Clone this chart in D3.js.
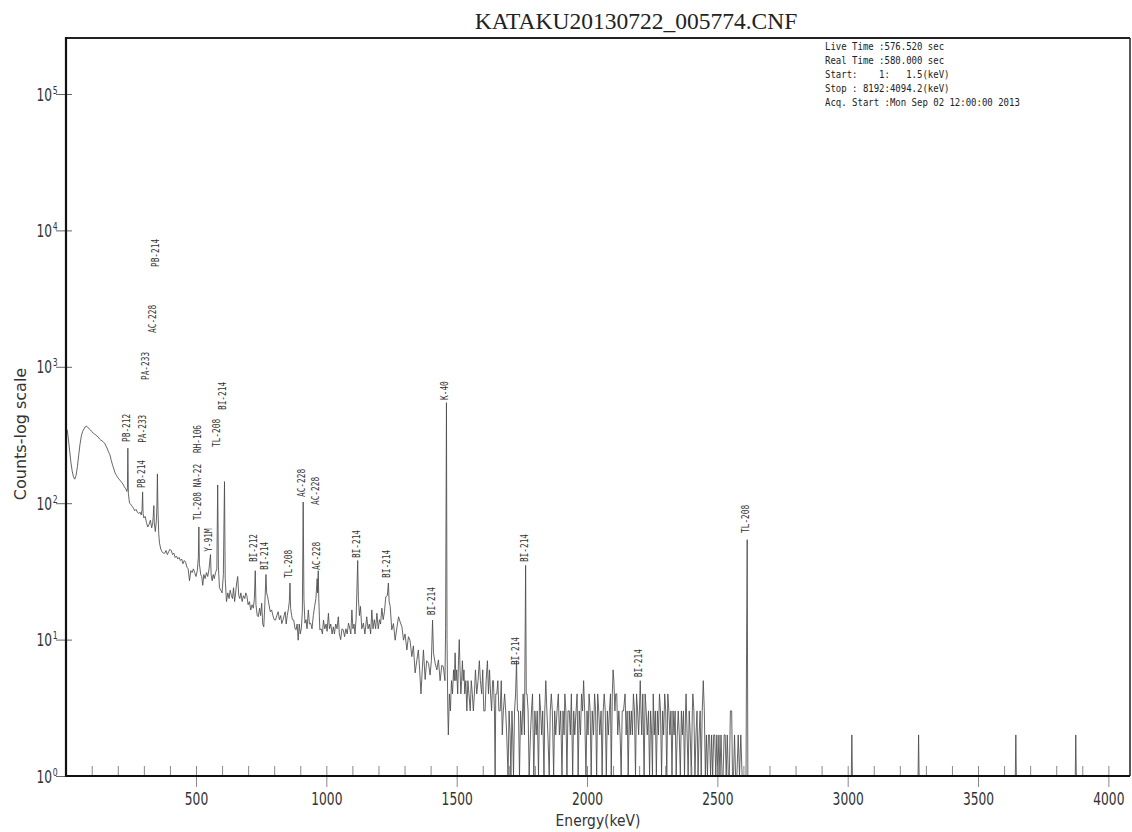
<!DOCTYPE html>
<html>
<head>
<meta charset="utf-8">
<script src="https://cdn.jsdelivr.net/npm/d3@7"></script>
<style>
  html, body { margin: 0; padding: 0; background: #fff; }
  svg { display: block; }
</style>
</head>
<body>
<svg id="chart" width="1132" height="832"></svg>
<script>
// ---- Spectrum file header ----
const titleText = "KATAKU20130722_005774.CNF";
const infoLines = [
  "Live Time :576.520 sec",
  "Real Time :580.000 sec",
  "Start:    1:   1.5(keV)",
  "Stop : 8192:4094.2(keV)",
  "Acq. Start :Mon Sep 02 12:00:00 2013"
];

// ---- Axis ticks ----
const xMajorTicks = [500, 1000, 1500, 2000, 2500, 3000, 3500, 4000];
const xMinorTicks = [100, 200, 300, 400, 600, 700, 800, 900, 1100, 1200, 1300, 1400,
  1600, 1700, 1800, 1900, 2100, 2200, 2300, 2400, 2600, 2700, 2800, 2900,
  3100, 3200, 3300, 3400, 3600, 3700, 3800, 3900];
const yTicks = [1, 10, 100, 1000, 10000, 100000];
const yExponents = ["0", "1", "2", "3", "4", "5"];

// ---- Spectrum: [energy keV, counts] ----
// low-energy continuum with the natural-series peaks (up to K-40)
const spectrumLow = [
  [1.5, 40], [3, 340], [6, 345], [10, 300], [15, 245], [20, 200], [25, 172], [30, 156], [35, 150],
  [40, 160], [45, 185], [50, 225], [55, 270], [60, 310], [65, 335], [70, 350], [75, 362], [80, 368],
  [85, 358], [90, 352], [95, 345], [100, 335], [105, 328], [110, 322], [115, 318], [120, 310],
  [125, 305], [130, 296], [135, 290], [140, 286], [145, 280], [150, 275], [155, 262], [160, 250],
  [165, 236], [170, 226], [175, 206], [180, 190], [185, 178], [190, 166], [195, 160], [200, 154],
  [205, 150], [210, 146], [215, 142], [220, 138], [225, 132], [230, 128], [235, 122],
  [237, 130], [238.6, 253], [240.5, 118],
  [245, 100], [250, 98], [255, 95], [260, 92], [265, 88], [270, 90], [275, 86], [280, 84], [285, 86], [290, 82],
  [293, 90], [295.2, 121], [297, 84],
  [300, 78], [305, 80], [310, 72], [315, 67], [320, 70], [325, 75], [330, 66], [334, 72],
  [336, 80], [338.3, 96], [340, 72], [344, 62], [348, 75],
  [350, 95], [351.9, 164], [354, 90], [357, 60],
  [360, 51], [365, 46], [370, 44], [375, 43], [380, 43], [385, 45], [390, 42], [395, 44], [400, 46],
  [405, 45], [410, 42], [415, 43], [420, 40], [425, 41], [430, 39], [435, 40], [440, 38], [445, 39],
  [450, 36], [455, 38], [460, 37], [465, 34], [470, 33], [475, 27], [480, 32], [485, 31], [490, 33],
  [495, 31], [500, 29], [505, 32],
  [509, 40], [511, 67], [513, 36],
  [518, 30], [522, 29], [526, 25], [530, 30], [535, 28], [540, 31], [545, 29], [550, 33],
  [555.6, 42], [558, 30], [562, 27], [566, 30], [570, 28], [575, 31], [580, 33],
  [583.2, 136], [586, 34], [590, 24], [595, 23], [600, 22], [605, 30],
  [609.3, 144], [612, 28], [617, 19], [622, 22], [627, 20], [631, 23], [636, 21], [640, 20], [644, 24],
  [648, 19], [652, 22], [656, 26], [660, 29], [664, 21], [668, 20], [672, 22], [677, 19], [682, 21],
  [687, 20], [691, 22], [695, 21], [700, 18], [705, 19], [710, 16.5], [715, 18], [720, 17], [724, 20],
  [727.3, 32], [730, 18], [735, 15], [739, 14.7], [744, 17], [748, 15], [752, 18.5], [756, 13],
  [760, 12.4], [764, 18],
  [768.4, 30], [771, 22], [775, 20.6], [780, 18], [785, 16], [790, 16.5], [795, 15], [800, 14],
  [805, 13.9], [810, 15], [815, 16], [820, 14], [825, 15], [829, 13.1], [834, 14], [838, 15],
  [842, 16], [846, 13], [850, 15], [855, 17],
  [858, 19], [860.6, 26], [863, 17], [867, 15], [870, 14], [875, 13.9], [880, 12], [884, 11.8],
  [888, 13], [892, 9.9], [896, 13], [900, 11], [904, 12], [908, 16],
  [911.2, 102], [914, 20], [918, 13.2], [922, 14], [926, 12], [931, 16.5], [935, 13], [940, 13.2],
  [945, 12], [950, 15], [955, 17.5], [960, 20],
  [964.8, 28], [966.5, 22], [969, 32], [971, 20], [975, 11.8], [980, 12], [985, 11], [989, 13.9],
  [994, 12], [999, 13], [1003, 11.5], [1008, 15.6], [1012, 12], [1017, 13], [1022, 11], [1027, 12.4],
  [1031, 11], [1036, 13], [1041, 12], [1046, 14.7], [1050, 11], [1055, 10], [1060, 12], [1065, 11.8],
  [1070, 10.5], [1075, 12], [1080, 11], [1085, 13.2], [1090, 12], [1094, 11], [1098, 16.5],
  [1102, 12], [1106, 13], [1110, 11], [1114, 14], [1117, 22],
  [1120.3, 38], [1123, 20], [1127, 15], [1131, 17.5], [1136, 12], [1142, 13.2], [1148, 11],
  [1155, 14.7], [1160, 12], [1165, 13], [1170, 11], [1174.5, 16.5], [1179, 12], [1184, 14],
  [1189, 12], [1194, 15.6], [1199, 12], [1204, 14], [1208, 13], [1213, 17], [1218, 14], [1223, 16],
  [1228, 20.6], [1234, 21],
  [1238.1, 26], [1241, 19], [1245, 17.5], [1251, 11.8], [1257.5, 13.1], [1264, 9.9], [1270, 12],
  [1277, 14.7], [1283, 13.5], [1290, 12.4], [1296, 9.9], [1302, 11], [1309, 8.4], [1315, 10.5],
  [1321, 9.9], [1328, 7.5], [1334, 9], [1340.6, 5.7], [1347, 7], [1353, 8.4], [1358, 6], [1363, 4],
  [1368, 6], [1372.5, 8.4], [1379, 5.1], [1385, 7], [1392, 6.7], [1398, 5.5], [1403, 7],
  [1407.5, 13.9], [1411, 8], [1417.5, 6.7], [1424, 6], [1430, 7.1], [1436.5, 5], [1443, 6.5],
  [1449, 6.3], [1455, 5],
  [1457.5, 12], [1460.8, 546], [1463, 10]
];

// sparse region between K-40 and the 2614 keV line (integer counts)
const spectrumMid = [
  [1466, 3], [1468, 2], [1472, 4], [1476, 3], [1480, 5], [1484, 4], [1488, 6], [1491, 5], [1494, 8],
  [1497, 5], [1500, 6], [1504, 4], [1507, 7], [1510, 10], [1513, 6], [1516, 4], [1519, 5], [1522, 7],
  [1525, 5], [1528, 6], [1531, 4], [1535, 5], [1539, 3], [1543, 5], [1547, 4], [1552, 3], [1556, 5],
  [1560, 4], [1564, 3], [1568, 4], [1572, 6], [1577, 4], [1582, 5], [1587, 7], [1591, 5], [1596, 4],
  [1600, 6], [1604, 3], [1609, 3], [1613, 5], [1618, 7], [1622, 4], [1626, 6], [1630, 4], [1634, 3],
  [1638, 5], [1641, 5], [1645, 3], [1647.5, 1], [1650, 4], [1654, 4], [1658, 5], [1662, 3],
  [1667, 3], [1671, 5], [1675, 2], [1679, 3], [1684, 4], [1688, 3], [1692, 2], [1697, 1], [1701, 3],
  [1705, 2], [1708, 1], [1712, 3], [1715, 2], [1718, 1], [1722, 3], [1726, 4],
  [1729.6, 7], [1733, 3], [1737, 3], [1741, 1], [1745, 3], [1750, 2], [1755, 4], [1760, 2],
  [1764.5, 35], [1767, 4], [1770, 4], [1774, 3], [1778, 1], [1783, 2], [1787, 3], [1791, 4],
  [1796, 1], [1800, 3], [1805, 2], [1809, 3], [1814, 1], [1818, 4], [1822, 3], [1826, 2], [1830, 3],
  [1835, 1], [1838, 3], [1842, 5], [1846, 3], [1850, 2], [1855, 1], [1859, 3], [1863, 4], [1867, 3],
  [1872, 1], [1876, 3], [1880, 2], [1885, 3], [1890, 4], [1894, 2], [1899, 3], [1904, 1], [1908, 3],
  [1912, 2], [1915, 4], [1919, 3], [1923, 1], [1927, 3], [1932, 3], [1936, 2], [1940, 4], [1945, 1],
  [1949, 3], [1953, 2], [1958, 3], [1962, 4], [1966, 1], [1970, 3], [1975, 2], [1979, 4], [1983, 3],
  [1987, 5], [1991, 3], [1996, 1], [2000, 3], [2004, 2], [2008, 4], [2012, 3], [2016, 1], [2020, 3],
  [2025, 2], [2029, 4], [2033, 3], [2037, 1], [2041, 4], [2045, 3], [2049, 2], [2054, 3], [2058, 1],
  [2062, 3], [2066, 4], [2070, 3], [2074, 1], [2078, 3], [2082, 2], [2086, 3], [2090, 4], [2093, 1],
  [2097, 4], [2100, 6], [2103, 5], [2107, 3], [2110, 4], [2114, 4], [2118, 2], [2122, 3], [2127, 2],
  [2131, 1], [2135, 3], [2140, 3], [2146, 4], [2150, 2], [2154, 3], [2158, 1], [2162, 3], [2166, 2],
  [2170, 3], [2174, 2], [2178, 4], [2182, 3], [2186, 1], [2190, 4], [2194, 3], [2198, 2],
  [2201, 3], [2204.2, 5], [2207, 3], [2210, 2], [2214, 4], [2219, 1], [2223, 4], [2227, 3],
  [2231, 2], [2236, 3], [2240, 1], [2244, 3], [2248, 2], [2251, 1], [2254, 4], [2258, 2], [2262, 3],
  [2266, 1], [2270, 3], [2274, 2], [2278, 4], [2282, 3], [2286, 1], [2290, 3], [2294, 2], [2298, 4],
  [2302, 3], [2306, 1], [2310, 4], [2314, 3], [2318, 2], [2322, 3], [2326, 1], [2330, 3], [2334, 2],
  [2338, 3], [2342, 1], [2346, 2], [2350, 3], [2354, 2], [2358, 1], [2362, 3], [2366, 2], [2370, 3],
  [2374, 1], [2378, 3], [2380, 4], [2384, 2], [2388, 1], [2392, 3], [2396, 2], [2400, 1], [2404, 3],
  [2406, 4], [2410, 3], [2414, 1], [2418, 2], [2422, 3], [2426, 1], [2430, 2], [2434, 3], [2438, 1],
  [2442, 3], [2446, 5], [2450, 3], [2454, 1], [2458, 2], [2462, 1], [2466, 2], [2470, 2], [2474, 1],
  [2478, 2], [2482, 1], [2486, 2], [2490, 2], [2494, 1], [2498, 2], [2502, 1], [2506, 2], [2510, 1],
  [2514, 2], [2518, 1], [2522, 1], [2526, 2], [2530, 2], [2534, 1], [2538, 2], [2542, 1], [2546, 1],
  [2550, 3], [2555, 3], [2558, 1], [2562, 1], [2566, 2], [2570, 1], [2575, 1], [2580, 2], [2585, 1],
  [2590, 2], [2595, 1], [2600, 1], [2605, 1], [2610, 1],
  [2612, 8], [2614.5, 54], [2617, 1]
];

// high-energy tail: empty channels with a few single events
const spectrumHigh = [
  [2620, 1], [3014, 1], [3016, 2], [3018, 1], [3270, 1], [3272, 2], [3274, 1],
  [3643, 1], [3645, 2], [3647, 1], [3873, 1], [3875, 2], [3877, 1], [4083, 1]
];

// ---- Nuclide identifications: [name, peak energy keV, label base (counts)] ----
const peakLabels = [
  ["PB-212", 238.6, 281],
  ["PB-214", 295.2, 129],
  ["PA-233", 300.1, 277],
  ["PA-233", 311.9, 800],
  ["AC-228", 338.3, 1770],
  ["PB-214", 351.9, 5390],
  ["TL-208", 510.8, 75],
  ["NA-22", 511.0, 131],
  ["RH-106", 511.9, 233],
  ["Y-91M", 555.6, 44],
  ["TL-208", 583.2, 258],
  ["BI-214", 609.3, 482],
  ["BI-212", 727.3, 37],
  ["BI-214", 768.4, 32.4],
  ["TL-208", 860.6, 28.3],
  ["AC-228", 911.2, 111],
  ["AC-228", 964.8, 97],
  ["AC-228", 969.0, 32.4],
  ["BI-214", 1120.3, 39.6],
  ["BI-214", 1238.1, 28.3],
  ["BI-214", 1408.0, 15.1],
  ["K-40", 1460.8, 571],
  ["BI-214", 1729.6, 6.5],
  ["BI-214", 1764.5, 37],
  ["BI-214", 2204.2, 5.3],
  ["TL-208", 2614.5, 60.5]
];

// ---- Layout ----
const plot = { left: 66, right: 1130, top: 38, bottom: 776 };
const svg = d3.select("#chart");

const x = d3.scaleLinear().domain([1.3, 4083]).range([plot.left, plot.right]);
const y = d3.scaleLog().domain([1, Math.pow(10, 5.4106)]).range([plot.bottom, plot.top]);

const axisFont = "'DejaVu Sans', sans-serif";
const monoFont = "'DejaVu Sans Mono', monospace";

// title
svg.append("text")
  .attr("x", 636).attr("y", 29)
  .attr("text-anchor", "middle")
  .attr("font-family", "'Liberation Serif', 'Times New Roman', serif")
  .attr("font-size", 23.5)
  .attr("fill", "#222")
  .text(titleText);

// spectrum trace
const spectrum = d3.sort(spectrumLow.concat(spectrumMid, spectrumHigh), d => d[0]);
svg.append("clipPath").attr("id", "plotClip")
  .append("rect")
  .attr("x", plot.left).attr("y", plot.top)
  .attr("width", plot.right - plot.left).attr("height", plot.bottom - plot.top);

const line = d3.line()
  .x(d => x(d[0]))
  .y(d => y(Math.max(1, d[1])));

svg.append("path")
  .datum(spectrum)
  .attr("clip-path", "url(#plotClip)")
  .attr("fill", "none")
  .attr("stroke", "#4a4a4a")
  .attr("stroke-width", 0.85)
  .attr("d", line);

// x axis: minor ticks (inside), major ticks crossing the axis
const xAxisG = svg.append("g").attr("transform", `translate(0,${plot.bottom})`);
xAxisG.append("g")
  .call(d3.axisBottom(x).tickValues(xMinorTicks).tickSize(-10).tickFormat(""))
  .call(g => g.select(".domain").remove())
  .call(g => g.selectAll(".tick line").attr("stroke", "#888").attr("stroke-width", 1));
xAxisG.append("g")
  .call(d3.axisBottom(x).tickValues(xMajorTicks).tickSize(-10).tickFormat(""))
  .call(g => g.select(".domain").remove())
  .call(g => g.selectAll(".tick line").attr("stroke", "#888").attr("stroke-width", 1));
const xMajor = xAxisG.append("g")
  .call(d3.axisBottom(x).tickValues(xMajorTicks).tickSize(11).tickPadding(0).tickFormat(d3.format("d")))
  .call(g => g.select(".domain").remove())
  .call(g => g.selectAll(".tick line").attr("stroke", "#888").attr("stroke-width", 1));
xMajor.selectAll(".tick text")
  .attr("y", 0).attr("dy", null)
  .attr("transform", "translate(0,29) scale(0.7,1)")
  .attr("font-family", axisFont)
  .attr("font-size", 17.5)
  .attr("fill", "#333");

svg.append("text")
  .attr("transform", "translate(598,826) scale(0.84,1)")
  .attr("text-anchor", "middle")
  .attr("font-family", axisFont)
  .attr("font-size", 16.5)
  .attr("fill", "#333")
  .text("Energy(keV)");

// y axis: decade ticks
const yAxisG = svg.append("g").attr("transform", `translate(${plot.left},0)`);
yAxisG.append("g")
  .call(d3.axisLeft(y).tickValues(yTicks).tickSize(10).tickFormat(""))
  .call(g => g.select(".domain").remove())
  .call(g => g.selectAll(".tick line").attr("stroke", "#666").attr("stroke-width", 1));
yAxisG.append("g")
  .call(d3.axisLeft(y).tickValues(yTicks).tickSize(-6).tickFormat(""))
  .call(g => g.select(".domain").remove())
  .call(g => g.selectAll(".tick line").attr("stroke", "#666").attr("stroke-width", 1));

const yLab = svg.append("g").selectAll("g")
  .data(yTicks)
  .join("g")
  .attr("transform", d => `translate(52,${y(d)})`);
yLab.append("text")
  .attr("transform", "translate(0,6.5) scale(0.68,1)")
  .attr("text-anchor", "end")
  .attr("font-family", axisFont)
  .attr("font-size", 18)
  .attr("fill", "#333")
  .text("10");
yLab.append("text")
  .attr("transform", "translate(0.8,-0.5) scale(0.7,1)")
  .attr("text-anchor", "start")
  .attr("font-family", axisFont)
  .attr("font-size", 11)
  .attr("fill", "#333")
  .text((d, i) => yExponents[i]);

svg.append("text")
  .attr("transform", "translate(26,434) rotate(-90)")
  .attr("text-anchor", "middle")
  .attr("font-family", axisFont)
  .attr("font-size", 16)
  .attr("fill", "#333")
  .text("Counts-log scale");

// plot frame
const frame = svg.append("g").attr("fill", "none");
frame.append("line")
  .attr("x1", plot.left).attr("x2", plot.right).attr("y1", plot.top).attr("y2", plot.top)
  .attr("stroke", "#222").attr("stroke-width", 2);
frame.append("line")
  .attr("x1", plot.right).attr("x2", plot.right).attr("y1", plot.top).attr("y2", plot.bottom)
  .attr("stroke", "#222").attr("stroke-width", 1.5);
frame.append("line")
  .attr("x1", plot.left).attr("x2", plot.right).attr("y1", plot.bottom).attr("y2", plot.bottom)
  .attr("stroke", "#111").attr("stroke-width", 2);
frame.append("line")
  .attr("x1", plot.left).attr("x2", plot.left).attr("y1", plot.top - 1).attr("y2", plot.bottom + 1)
  .attr("stroke", "#111").attr("stroke-width", 2.2);

// acquisition info block
svg.append("g").selectAll("text")
  .data(infoLines)
  .join("text")
  .attr("transform", (d, i) => `translate(825,${50 + i * 14}) scale(0.9,1)`)
  .attr("font-family", monoFont)
  .attr("font-size", 10)
  .attr("fill", "#222")
  .style("white-space", "pre")
  .text(d => d);

// nuclide labels above peaks
svg.append("g").selectAll("text")
  .data(peakLabels)
  .join("text")
  .attr("transform", d => `translate(${x(d[1]) + 2},${y(d[2])}) rotate(-90) scale(0.78,1)`)
  .attr("text-anchor", "start")
  .attr("font-family", monoFont)
  .attr("font-size", 10)
  .attr("fill", "#333")
  .text(d => d[0]);
</script>
</body>
</html>
